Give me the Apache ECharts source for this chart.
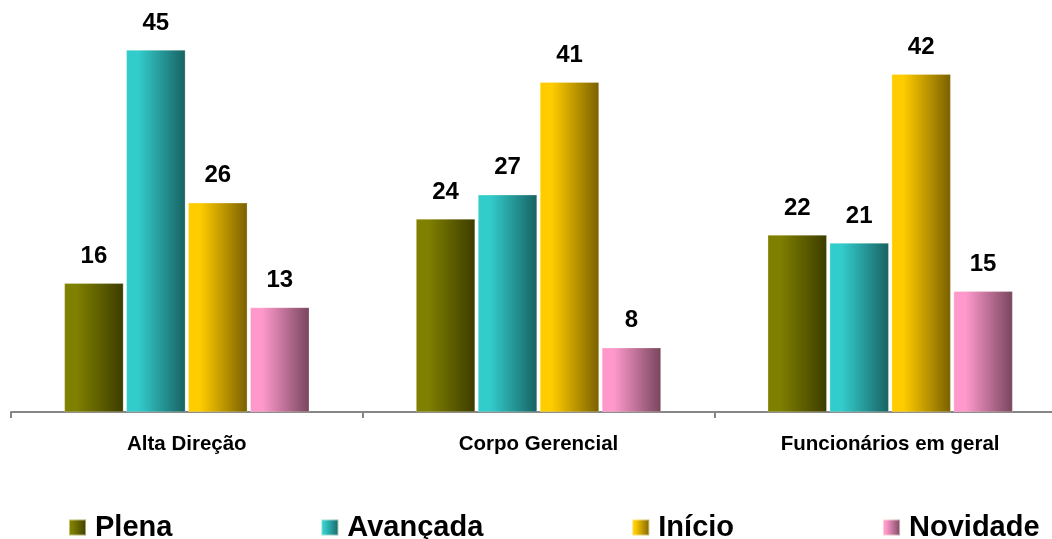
<!DOCTYPE html>
<html>
<head>
<meta charset="utf-8">
<script src="https://cdn.jsdelivr.net/npm/echarts@6/dist/echarts.min.js"></script>
<style>
  html, body { margin: 0; padding: 0; background: #ffffff; }
  #chart { width: 1052px; height: 539px; }
</style>
</head>
<body>
<div id="chart"></div>
<script>
// Categories and series values
const categories = ['Alta Direção', 'Corpo Gerencial', 'Funcionários em geral'];
const seriesNames = ['Plena', 'Avançada', 'Início', 'Novidade'];
const plena = [16, 24, 22];
const avancada = [45, 27, 21];
const inicio = [26, 41, 42];
const novidade = [13, 8, 15];

// Horizontal gradient per series: light left edge, dark right edge
const palette = [
  ['#808000', '#3c3c00'],
  ['#33cccc', '#186262'],
  ['#ffcc00', '#7a6000'],
  ['#ff99cc', '#78455e']
];

function grad(c) {
  return new echarts.graphic.LinearGradient(0, 0, 1, 0, [
    { offset: 0, color: c[0] },
    { offset: 0.2, color: c[0] },
    { offset: 1, color: c[1] }
  ]);
}

const values = [plena, avancada, inicio, novidade];
const font = 'Arial, "Liberation Sans", Helvetica, sans-serif';

const chart = echarts.init(document.getElementById('chart'), null, { renderer: 'canvas' });

chart.setOption({
  animation: false,
  backgroundColor: '#ffffff',
  // the plot runs past the right edge of the canvas, so the last tick is off-screen
  grid: {
    left: 11, right: -14, top: 50, bottom: 127,
    containLabel: false,
    outerBoundsMode: 'none'
  },
  legend: {
    data: seriesNames,
    left: 63,
    top: 508,
    itemWidth: 17,
    itemHeight: 16,
    itemGap: 148,
    icon: 'rect',
    textStyle: { fontFamily: font, fontWeight: 'bold', fontSize: 29, color: '#000', padding: [0, 0, 0, 4] }
  },
  xAxis: {
    type: 'category',
    data: categories,
    axisLine: { lineStyle: { color: '#868686', width: 2 } },
    axisTick: { show: true, length: 6, lineStyle: { color: '#868686', width: 2 } },
    axisLabel: { fontFamily: font, fontWeight: 'bold', fontSize: 20.5, color: '#000', margin: 22 }
  },
  yAxis: {
    type: 'value',
    min: 0,
    max: 45,
    show: false,
    splitLine: { show: false }
  },
  series: seriesNames.map((name, i) => ({
    name: name,
    type: 'bar',
    data: values[i],
    barWidth: 59,
    barGap: '5%',
    itemStyle: { color: grad(palette[i]), borderColor: 'rgba(255,255,240,0.5)', borderWidth: 0.5 },
    label: {
      show: true,
      position: 'top',
      distance: 15,
      fontFamily: font,
      fontWeight: 'bold',
      fontSize: 24,
      color: '#000'
    }
  }))
});
</script>
</body>
</html>
